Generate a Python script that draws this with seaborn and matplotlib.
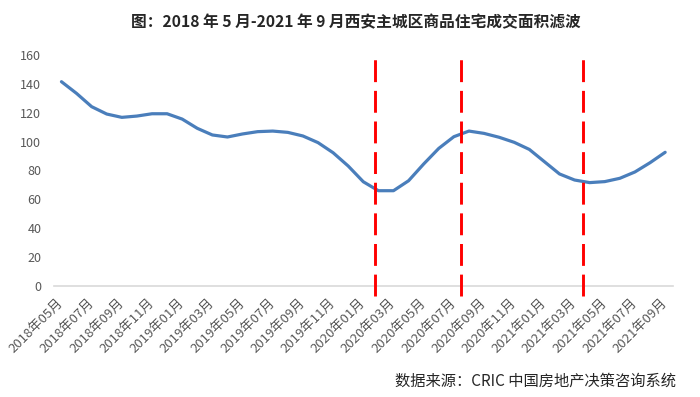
import pandas as pd
import numpy as np
import matplotlib
matplotlib.use('Agg')
import matplotlib.pyplot as plt
import seaborn as sns

# 月份 2018-05 .. 2021-09
months = [f'{y}年{m:02d}月' for y in range(2018, 2022) for m in range(1, 13)]
months = months[4:4 + 41]

# 滤波值
area = [141.5, 133.4, 124.2, 119.1, 116.8, 117.7, 119.3, 119.3, 115.6, 109.2,
        104.6, 103.2, 105.3, 106.9, 107.3, 106.4, 103.9, 99.3, 92.3, 83.1,
        72.2, 66.0, 66.0, 72.9, 84.5, 95.3, 103.4, 107.3, 105.7, 103.0,
        99.5, 94.6, 86.1, 77.6, 73.4, 71.6, 72.3, 74.6, 79.0, 85.4, 92.6]

# 红色虚线位置（按月份序号）
marker_pos = [20.76, 26.5, 34.56]

df = pd.DataFrame({'month': months, 'area': area})
df['pos'] = np.arange(len(df))

sns.set_style('white')
plt.rcParams['font.family'] = ['Noto Sans CJK SC', 'DejaVu Sans']

fig = plt.figure(figsize=(7, 3.97), dpi=100)
ax = fig.add_axes([0.077, 0.2796, 0.884, 0.5819])

sns.lineplot(data=df, x='pos', y='area', color='#4a7ebb', linewidth=2.3, ax=ax)

for p in marker_pos:
    ax.plot([p, p], [-7, 157], color='#ff0000', linewidth=2.1,
            linestyle=(0, (7.5, 3)), clip_on=False, zorder=5)

ax.set_xlim(-0.5, len(df) - 0.5)
ax.set_ylim(0, 160)
ax.set_yticks(range(0, 161, 20))
ax.set_xticks(df['pos'][::2])
ax.set_xticklabels(df['month'][::2], rotation=45, ha='right', va='center',
                   rotation_mode='anchor', fontsize=9.5, color='#595959')
ax.tick_params(axis='x', pad=11, length=0)
ax.tick_params(axis='y', labelsize=9, labelcolor='#595959', length=0, pad=9)
ax.set_xlabel('')
ax.set_ylabel('')
for s in ['top', 'right', 'left']:
    ax.spines[s].set_visible(False)
ax.spines['bottom'].set_color('#d9d9d9')
ax.spines['bottom'].set_linewidth(1.2)

fig.text(0.509, 0.945, '图：2018 年 5 月-2021 年 9 月西安主城区商品住宅成交面积滤波',
         ha='center', va='center', fontsize=11.3, fontweight='bold')
fig.text(0.966, 0.04, '数据来源：CRIC 中国房地产决策咨询系统',
         ha='right', va='center', fontsize=11)

plt.savefig('out.png', dpi=100)
